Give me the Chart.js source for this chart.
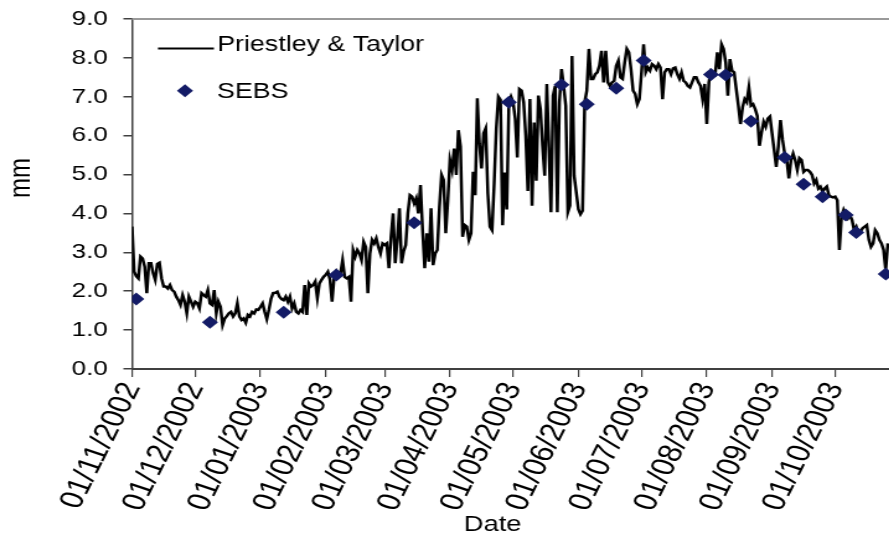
<!DOCTYPE html>
<html>
<head>
<meta charset="utf-8">
<title>Priestley &amp; Taylor and SEBS evaporation</title>
<script src="https://cdn.jsdelivr.net/npm/chart.js@4.4.1/dist/chart.umd.min.js"></script>
<style>
  html, body { margin: 0; padding: 0; background: #fff; overflow: hidden; }
  /* the chart is laid out narrow and widened, which gives the broad Excel-style lettering */
  #wrap { width: 717px; height: 535px; transform: scaleX(1.24); transform-origin: 0 0; }
</style>
</head>
<body>
<div id="wrap"><canvas id="etChart"></canvas></div>
<script>
// Daily Priestley & Taylor evaporation (mm), one array per month
const PT_START = '01/11/2002';
const PT_NOV_2002 = [3.66, 2.50, 2.39, 2.33, 2.89, 2.84, 2.63, 1.95, 2.72, 2.72, 2.46, 2.29, 2.70, 2.73, 2.33,
  2.12, 2.12, 2.07, 2.16, 2.03, 1.99, 1.86, 1.77, 1.65, 1.90, 1.73, 1.43, 1.86, 1.73, 1.60];
const PT_DEC_2002 = [1.73, 1.69, 1.56, 1.95, 1.90, 1.86, 2.03, 1.69, 1.65, 2.03, 1.43, 1.73, 1.60, 1.13, 1.30,
  1.36, 1.43, 1.47, 1.35, 1.43, 1.69, 1.35, 1.26, 1.30, 1.19, 1.39, 1.35, 1.47, 1.43, 1.53, 1.52];
const PT_JAN_2003 = [1.60, 1.69, 1.47, 1.28, 1.52, 1.80, 1.95, 1.96, 1.99, 1.86, 1.80, 1.77, 1.86, 1.73, 1.86,
  1.56, 1.69, 1.47, 1.43, 1.52, 1.47, 2.16, 1.39, 2.20, 2.12, 2.16, 2.25, 1.82, 2.20, 2.29, 2.37];
const PT_FEB_2003 = [2.42, 2.50, 2.30, 1.73, 2.37, 2.50, 2.37, 2.46, 2.80, 2.37, 2.33, 2.37, 1.73, 3.06, 2.89,
  3.06, 2.97, 2.80, 3.27, 3.14, 1.95, 2.97, 3.32, 3.23, 3.36, 3.14, 2.97, 3.23];
const PT_MAR_2003 = [3.19, 3.23, 2.59, 3.40, 4.00, 2.72, 3.32, 4.13, 2.72, 3.02, 3.19, 4.00, 4.47, 4.43, 4.26,
  4.39, 4.00, 4.73, 3.57, 2.59, 3.49, 2.76, 4.13, 2.67, 2.97, 3.06, 4.17, 4.99, 4.86, 3.49, 4.34];
const PT_APR_2003 = [5.37, 5.12, 5.67, 4.99, 6.14, 5.72, 3.40, 3.70, 3.66, 3.32, 3.49, 5.07, 4.47, 6.96, 5.80,
  5.16, 6.06, 6.19, 4.52, 3.66, 3.57, 4.77, 6.19, 7.00, 6.92, 3.70, 5.05, 4.10, 6.84, 7.00];
const PT_MAY_2003 = [6.86, 6.43, 5.44, 7.20, 7.16, 6.86, 6.00, 4.58, 6.94, 4.20, 6.34, 4.84, 7.03, 6.68, 5.74,
  4.97, 7.33, 5.70, 4.03, 7.03, 7.28, 4.03, 6.86, 7.71, 7.28, 6.77, 4.03, 4.20, 8.05, 4.97, 4.54];
const PT_JUN_2003 = [4.11, 3.98, 4.07, 6.86, 7.16, 8.23, 7.46, 7.46, 7.58, 7.63, 7.80, 8.18, 7.37, 8.18, 7.37,
  7.28, 7.37, 7.41, 7.80, 7.93, 7.50, 7.46, 7.88, 8.23, 8.14, 7.71, 7.16, 7.07, 6.81, 6.94];
const PT_JUL_2003 = [7.63, 8.35, 7.63, 7.75, 7.67, 7.84, 7.80, 7.71, 7.84, 7.75, 6.94, 7.63, 7.71, 7.71, 7.58,
  7.73, 7.75, 7.58, 7.46, 7.63, 7.41, 7.37, 7.28, 7.24, 7.37, 7.50, 7.50, 7.37, 7.28, 6.94, 7.33];
const PT_AUG_2003 = [6.30, 7.37, 7.67, 7.63, 7.58, 8.14, 7.71, 8.35, 8.23, 7.88, 7.03, 7.97, 7.67, 7.63, 7.20,
  6.77, 6.30, 6.73, 6.94, 6.86, 7.24, 6.77, 6.81, 6.68, 6.51, 5.74, 6.08, 6.36, 6.23, 6.44, 6.49];
const PT_SEP_2003 = [6.06, 5.63, 5.20, 5.72, 6.40, 5.89, 5.54, 5.37, 4.90, 5.37, 5.54, 5.37, 5.12, 5.42, 5.37,
  5.07, 5.12, 5.12, 5.07, 4.99, 4.77, 4.86, 4.64, 4.69, 4.56, 4.64, 4.69, 4.47, 4.43, 4.41];
const PT_OCT_2003 = [4.43, 4.34, 3.06, 3.92, 4.09, 3.96, 3.87, 3.96, 3.83, 3.57, 3.66, 3.49, 3.53, 3.62, 3.66,
  3.70, 3.32, 3.14, 3.23, 3.57, 3.49, 3.32, 3.23, 3.06, 2.54, 3.23];

// SEBS estimates on the image dates (mm)
const SEBS_DATES = ['03/11/2002', '08/12/2002', '12/01/2003', '06/02/2003', '15/03/2003', '29/04/2003',
  '24/05/2003', '05/06/2003', '19/06/2003', '02/07/2003', '03/08/2003', '10/08/2003', '22/08/2003',
  '07/09/2003', '16/09/2003', '25/09/2003', '06/10/2003', '11/10/2003', '25/10/2003'];
const SEBS_MM = [1.80, 1.20, 1.46, 2.42, 3.76, 6.86, 7.31, 6.81, 7.22, 7.93, 7.57, 7.56, 6.37,
  5.44, 4.75, 4.43, 3.96, 3.51, 2.44];

// Date axis ticks and value axis range
const TICK_LABELS = ['01/11/2002', '01/12/2002', '01/01/2003', '01/02/2003', '01/03/2003', '01/04/2003',
  '01/05/2003', '01/06/2003', '01/07/2003', '01/08/2003', '01/09/2003', '01/10/2003'];
const Y_MIN = 0, Y_MAX = 9;

const NAVY = '#131b66';
const AXIS = '#404040';
const FONT = '"Liberation Sans", Arial, sans-serif';

// days since the first day of the series
function dayIndex(s) {
  const [d, m, y] = s.split('/').map(Number);
  const [d0, m0, y0] = PT_START.split('/').map(Number);
  return Math.round((Date.UTC(y, m - 1, d) - Date.UTC(y0, m0 - 1, d0)) / 86400000);
}

const ptDaily = [].concat(PT_NOV_2002, PT_DEC_2002, PT_JAN_2003, PT_FEB_2003, PT_MAR_2003, PT_APR_2003,
  PT_MAY_2003, PT_JUN_2003, PT_JUL_2003, PT_AUG_2003, PT_SEP_2003, PT_OCT_2003);
const ptPoints = ptDaily.map((v, i) => ({ x: i, y: v }));
const sebsPoints = SEBS_DATES.map((d, i) => ({ x: dayIndex(d), y: SEBS_MM[i] }));
const tickDays = TICK_LABELS.map(dayIndex);

// plot frame top edge, legend and axis titles
const decorations = {
  id: 'decorations',
  afterDraw(chart) {
    const { ctx, chartArea: a } = chart;
    ctx.save();
    ctx.strokeStyle = '#9a9a9a';
    ctx.lineWidth = 2;
    ctx.beginPath();
    ctx.moveTo(a.left, a.top);
    ctx.lineTo(a.right, a.top);
    ctx.stroke();

    ctx.fillStyle = '#000';
    ctx.font = '21.6px ' + FONT;
    ctx.textBaseline = 'alphabetic';
    ctx.textAlign = 'left';

    ctx.strokeStyle = '#000';
    ctx.lineWidth = 2.2;
    ctx.beginPath();
    ctx.moveTo(127.4, 48.5);
    ctx.lineTo(172.5, 48.5);
    ctx.stroke();
    ctx.fillText('Priestley & Taylor', 175.2, 50.5);

    ctx.fillStyle = NAVY;
    ctx.beginPath();
    ctx.moveTo(149.2, 90.7 - 6.5);
    ctx.lineTo(149.2 + 6.5, 90.7);
    ctx.lineTo(149.2, 90.7 + 6.5);
    ctx.lineTo(149.2 - 6.5, 90.7);
    ctx.closePath();
    ctx.fill();
    ctx.fillStyle = '#000';
    ctx.fillText('SEBS', 175, 97.8);

    ctx.font = '22px ' + FONT;
    ctx.textAlign = 'center';
    ctx.fillText('Date', 397.3, 530.5);

    ctx.translate(17.3, 178);
    ctx.rotate(-Math.PI / 2);
    ctx.font = '24px ' + FONT;
    ctx.textBaseline = 'middle';
    ctx.fillText('mm', 0, 0);
    ctx.restore();
  }
};

new Chart(document.getElementById('etChart'), {
  type: 'line',
  data: {
    datasets: [
      {
        label: 'Priestley & Taylor',
        data: ptPoints,
        borderColor: '#000',
        borderWidth: 2.5,
        pointRadius: 0,
        tension: 0,
        fill: false,
        order: 1
      },
      {
        label: 'SEBS',
        data: sebsPoints,
        showLine: false,
        pointStyle: 'rectRot',
        pointRadius: 6.5,
        pointBackgroundColor: NAVY,
        pointBorderColor: NAVY,
        pointBorderWidth: 0,
        order: 0
      }
    ]
  },
  options: {
    responsive: true,
    maintainAspectRatio: false,
    animation: false,
    devicePixelRatio: 1,
    layout: { autoPadding: false, padding: { top: 19, right: 0, bottom: 0, left: 0 } },
    plugins: { legend: { display: false }, tooltip: { enabled: false } },
    scales: {
      x: {
        type: 'linear',
        min: 0,
        max: 359.6,
        afterBuildTicks: axis => { axis.ticks = tickDays.map(v => ({ value: v })); },
        afterFit: axis => {
          axis.height = 166;
          axis.paddingLeft = 0;
          axis.paddingRight = 0;
        },
        ticks: {
          autoSkip: false,
          minRotation: 68,
          maxRotation: 68,
          padding: 1,
          color: '#000',
          font: { family: FONT, size: 27 },
          callback: v => TICK_LABELS[tickDays.indexOf(v)]
        },
        grid: { drawOnChartArea: false, color: AXIS, lineWidth: 1.2, tickLength: 8 },
        border: { color: AXIS, width: 2 }
      },
      y: {
        min: Y_MIN,
        max: Y_MAX,
        afterFit: axis => {
          axis.width = 106.5;
          axis.paddingTop = 0;
          axis.paddingBottom = 0;
        },
        ticks: {
          stepSize: 1,
          padding: 12.5,
          color: '#000',
          font: { family: FONT, size: 21 },
          callback: v => v.toFixed(1)
        },
        grid: { drawOnChartArea: false, color: AXIS, lineWidth: 1.5, tickLength: 7 },
        border: { color: AXIS, width: 1.5 }
      }
    }
  },
  plugins: [decorations]
});
</script>
</body>
</html>
